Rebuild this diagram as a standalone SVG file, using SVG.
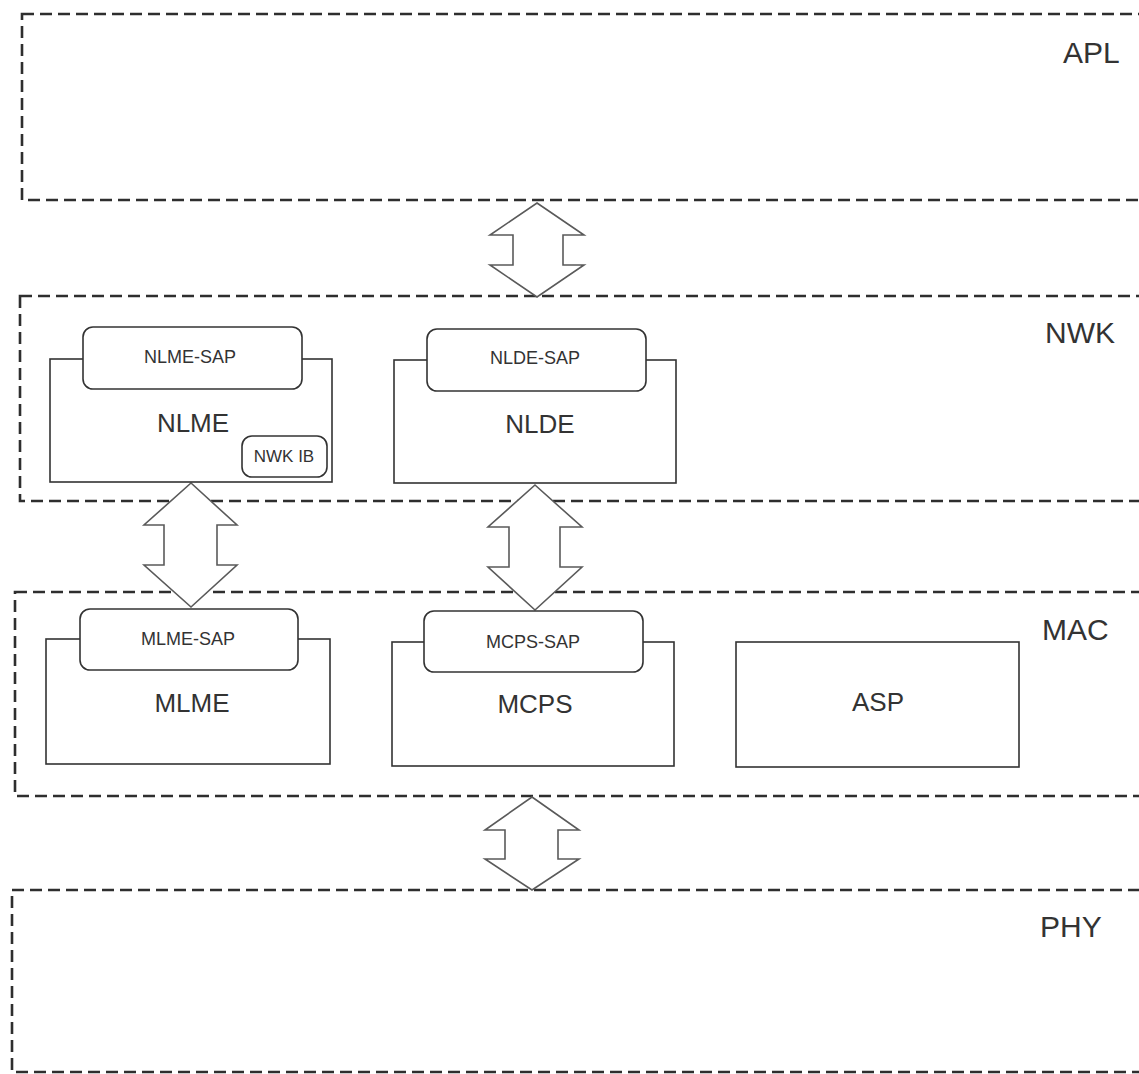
<svg xmlns="http://www.w3.org/2000/svg" width="1139" height="1074" viewBox="0 0 1139 1074">
<style>
.band{fill:none;stroke:#2e2e2e;stroke-width:2.6;stroke-dasharray:12 6}
.box{fill:#fff;stroke:#333;stroke-width:1.6}
.sap{fill:#fff;stroke:#333;stroke-width:1.6}
.arrow{fill:#fff;stroke:#5a5a5a;stroke-width:1.6;stroke-linejoin:miter}
text{font-family:"Liberation Sans",Arial,sans-serif;fill:#333}
.layer{font-size:30px}
.big{font-size:26px;text-anchor:middle}
.small{font-size:18px;text-anchor:middle}
.tiny{font-size:17px;text-anchor:middle}
</style>
<rect width="1139" height="1074" fill="#fff"/>
<g id="layer-APL">
<rect class="band" x="22" y="14" width="1140" height="186"/>
<text class="layer" x="1063" y="63">APL</text>
</g>
<g id="layer-NWK">
<rect class="band" x="20" y="296" width="1142" height="205"/>
<text class="layer" x="1045" y="343">NWK</text>
</g>
<g id="layer-MAC">
<rect class="band" x="15" y="592" width="1147" height="204"/>
<text class="layer" x="1042" y="640">MAC</text>
</g>
<g id="layer-PHY">
<rect class="band" x="12" y="890" width="1150" height="182"/>
<text class="layer" x="1040" y="937">PHY</text>
</g>
<g id="connectors">
<polygon class="arrow" points="537,203 584,235 563,235 563,265 584,265 537,297 490,265 513,265 513,235 490,235"/>
<polygon class="arrow" points="191,483 237,525 217,525 217,565 237,565 191,607 144,565 164,565 164,525 144,525"/>
<polygon class="arrow" points="535,485 582,527 560,527 560,567 582,567 535,610 488,567 509,567 509,527 488,527"/>
<polygon class="arrow" points="532,797 579,830 558,830 558,859 579,859 532,890 485,859 505,859 505,830 485,830"/>
</g>
<g id="NLME">
<rect class="box" x="50" y="359" width="282" height="123"/>
<text class="big" x="193" y="432">NLME</text>
</g>
<g id="NLME-SAP">
<rect class="sap" x="83" y="327" width="219" height="62" rx="10"/>
<text class="small" x="190" y="363">NLME-SAP</text>
</g>
<g id="NWK-IB">
<rect class="sap" x="242" y="436" width="85" height="41" rx="10"/>
<text class="tiny" x="284" y="462">NWK IB</text>
</g>
<g id="NLDE">
<rect class="box" x="394" y="360" width="282" height="123"/>
<text class="big" x="540" y="433">NLDE</text>
</g>
<g id="NLDE-SAP">
<rect class="sap" x="427" y="329" width="219" height="62" rx="10"/>
<text class="small" x="535" y="364">NLDE-SAP</text>
</g>
<g id="MLME">
<rect class="box" x="46" y="639" width="284" height="125"/>
<text class="big" x="192" y="712">MLME</text>
</g>
<g id="MLME-SAP">
<rect class="sap" x="80" y="609" width="218" height="61" rx="10"/>
<text class="small" x="188" y="645">MLME-SAP</text>
</g>
<g id="MCPS">
<rect class="box" x="392" y="642" width="282" height="124"/>
<text class="big" x="535" y="713">MCPS</text>
</g>
<g id="MCPS-SAP">
<rect class="sap" x="424" y="611" width="219" height="61" rx="10"/>
<text class="small" x="533" y="648">MCPS-SAP</text>
</g>
<g id="ASP">
<rect class="box" x="736" y="642" width="283" height="125"/>
<text class="big" x="878" y="711">ASP</text>
</g>
</svg>
